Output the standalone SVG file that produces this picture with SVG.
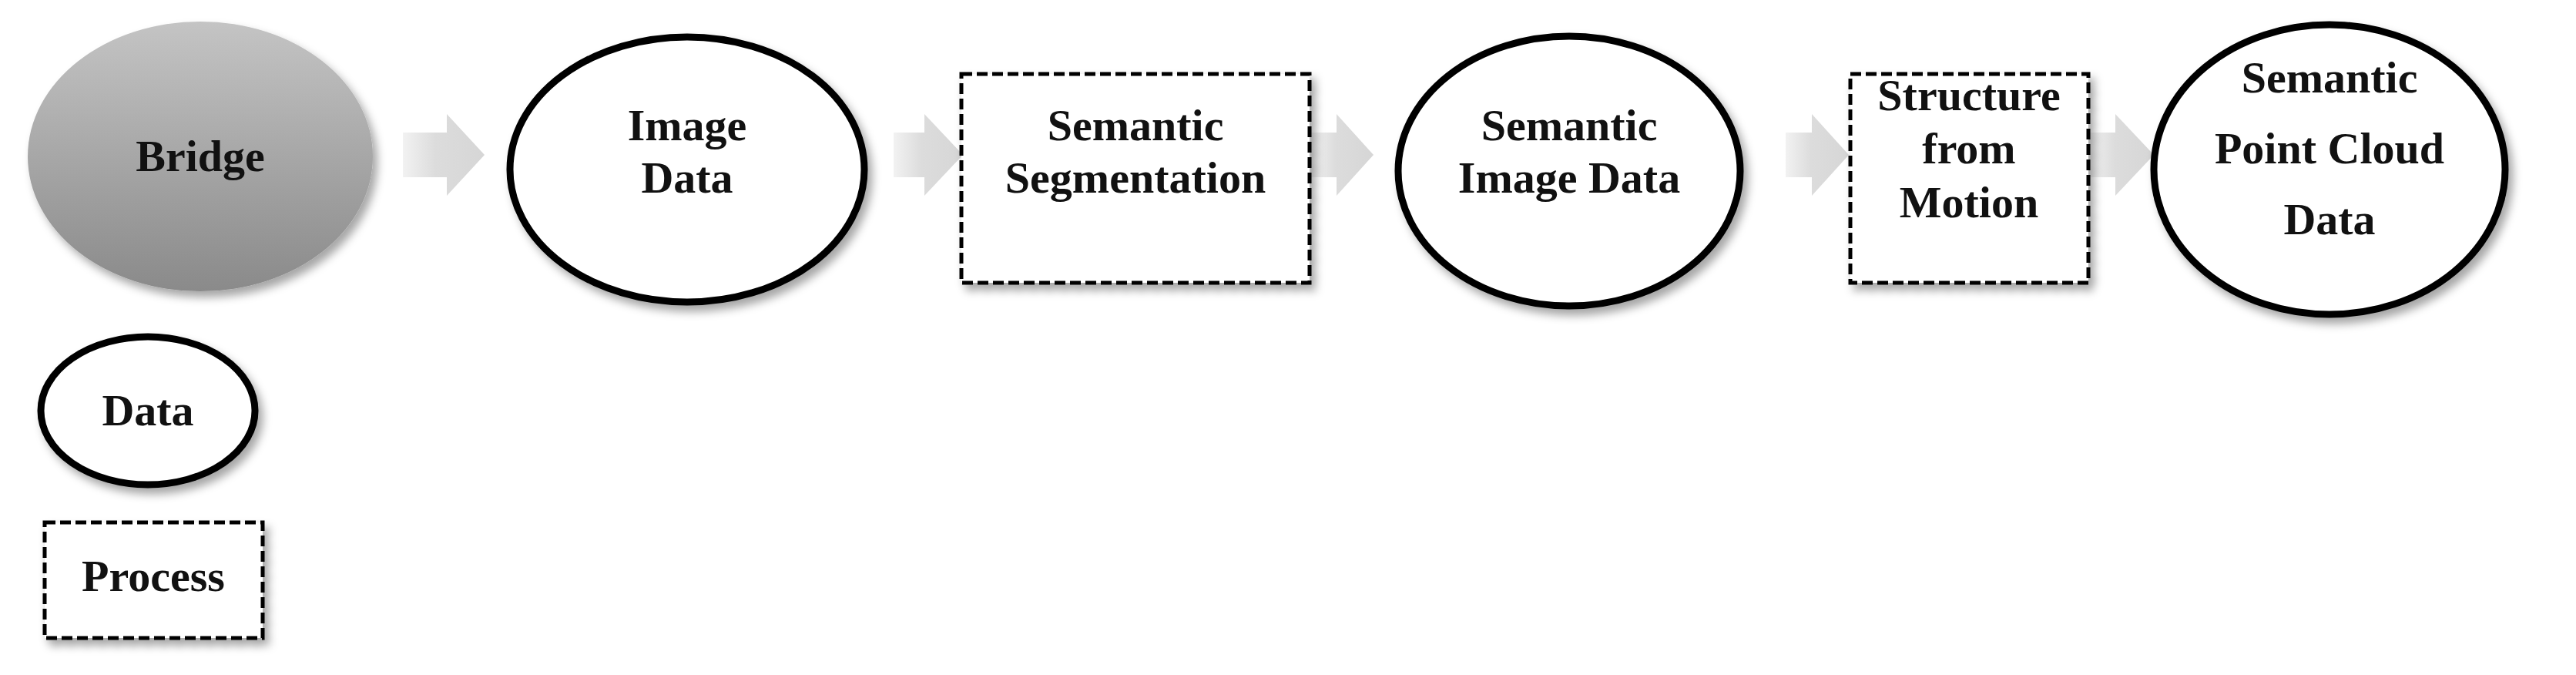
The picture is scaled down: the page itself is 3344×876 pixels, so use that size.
<svg xmlns="http://www.w3.org/2000/svg" width="3344" height="876" viewBox="0 0 3344 876">
<defs>
<linearGradient id="gBridge" x1="0" y1="0" x2="0" y2="1"><stop offset="0" stop-color="#c4c4c4"/><stop offset="1" stop-color="#8a8a8a"/></linearGradient>
<linearGradient id="gArr" x1="0" y1="0" x2="1" y2="0"><stop offset="0" stop-color="#f2f2f2"/><stop offset="0.4" stop-color="#dcdcdc"/><stop offset="1" stop-color="#d6d6d6"/></linearGradient>
<filter id="sh" x="-20%" y="-20%" width="140%" height="140%"><feDropShadow dx="6" dy="8" stdDeviation="6" flood-color="#000" flood-opacity="0.35"/></filter>
</defs>
<style>
.t{font-family:"Liberation Serif","DejaVu Serif",serif;font-weight:bold;font-size:58px;fill:#111;text-anchor:middle}
.d{fill:#fff;stroke:#000;stroke-width:9;filter:url(#sh)}
.p{fill:#fff;stroke:#000;stroke-width:5;stroke-dasharray:14 6;filter:url(#sh)}
.a{fill:url(#gArr)}
</style>
<rect width="3344" height="876" fill="#fff"/>
<g id="connectors">
<polygon class="a" points="523,172 580,172 580,148 629,201 580,254 580,230 523,230"/>
<polygon class="a" points="1160,172 1200,172 1200,148 1250,201 1200,254 1200,230 1160,230"/>
<polygon class="a" points="1702,172 1735,172 1735,148 1783,201 1735,254 1735,230 1702,230"/>
<polygon class="a" points="2318,172 2352,172 2352,148 2400,201 2352,254 2352,230 2318,230"/>
<polygon class="a" points="2712,172 2746,172 2746,148 2796,201 2746,254 2746,230 2712,230"/>
</g>
<g id="bridge"><ellipse cx="260" cy="203" rx="224" ry="175" fill="url(#gBridge)" filter="url(#sh)"/><text class="t" x="260" y="222">Bridge</text></g>
<g id="image-data"><ellipse class="d" cx="892" cy="220" rx="230" ry="172"/><text class="t" x="892" y="182">Image</text><text class="t" x="892" y="250">Data</text></g>
<g id="semantic-segmentation"><rect class="p" x="1248" y="96" width="452" height="271"/><text class="t" x="1474" y="182">Semantic</text><text class="t" x="1474" y="250">Segmentation</text></g>
<g id="semantic-image-data"><ellipse class="d" cx="2037" cy="222" rx="222" ry="175"/><text class="t" x="2037" y="182">Semantic</text><text class="t" x="2037" y="250">Image Data</text></g>
<g id="structure-from-motion"><rect class="p" x="2402" y="96" width="309" height="271"/><text class="t" x="2556" y="143">Structure</text><text class="t" x="2556" y="212">from</text><text class="t" x="2556" y="282">Motion</text></g>
<g id="semantic-point-cloud-data"><ellipse class="d" cx="3024" cy="220" rx="228" ry="188"/><text class="t" x="3024" y="120">Semantic</text><text class="t" x="3024" y="212">Point Cloud</text><text class="t" x="3024" y="304">Data</text></g>
<g id="legend-data"><ellipse class="d" cx="192" cy="533" rx="139" ry="96"/><text class="t" x="192" y="552">Data</text></g>
<g id="legend-process"><rect class="p" x="58" y="678" width="283" height="150"/><text class="t" x="199" y="767">Process</text></g>
</svg>
